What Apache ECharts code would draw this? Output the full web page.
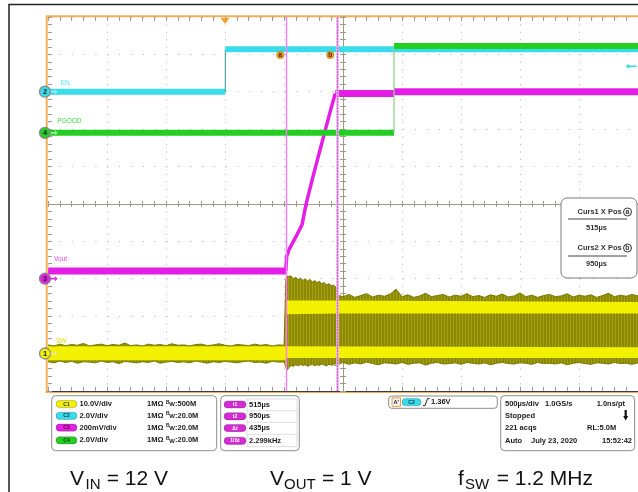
<!DOCTYPE html>
<html><head><meta charset="utf-8">
<script src="https://cdn.jsdelivr.net/npm/echarts@6/dist/echarts.min.js"></script>
<style>html,body{margin:0;padding:0;background:#fff}#c{width:638px;height:492px}</style>
</head><body><div id="c"></div>
<script>
// ---------- scope settings ----------
const TIME_MIN = -1500, TIME_MAX = 3500, TIME_DIV = 500;      // µs, 500µs/div
const DIV_MIN = -5, DIV_MAX = 5;                                // 10 vertical divisions
const CH_NAMES = ['SW', 'EN', 'Vout', 'PGOOD'];                 // C1..C4
const CH_NUM = ['1', '2', '3', '4'];
const CH_VDIV = [10, 2, 0.2, 2];                                // V/div
const CH_GND_DIV = [-4, 3, -2, 1.9];                            // ground marker position (div)
const CH_COLORS = ['#F1F100', '#38DCEA', '#E41EE4', '#22CE22'];
const CH_SCALE_TXT = ['10.0V/div', '2.0V/div', '200mV/div', '2.0V/div'];
const CH_IMP_TXT = ['1MΩ', '1MΩ', '1MΩ', '1MΩ'];
const CH_BW_TXT = ['500M', '20.0M', '20.0M', '20.0M'];
const CURSOR_T = [515, 950];                                    // µs
const TRIG_T = 0, TRIG_LEVEL = 1.36;                            // trigger on C2

// ---------- traces ----------
const EN_T = [-1500, 2.5, 2.5, 3500];
const EN_V = [0, 0, 2.27, 2.27];
const PG_T = [-1500, 1432, 1432, 3500];
const PG_V = [0, 0, 4.65, 4.65];
const VOUT_T = [-1500, 515, 522, 543, 602, 653, 684, 737, 788, 838, 888, 934, 1432, 1432, 3500];
const VOUT_V = [0.041, 0.041, 0.119, 0.157, 0.226, 0.290, 0.392, 0.526, 0.649, 0.767, 0.887, 0.99, 0.99, 1.0, 1.0];

// SW envelope (V), before soft-start, during ramp, steady state
const SW1_T = [-1500,-1450,-1400,-1350,-1300,-1250,-1200,-1150,-1100,-1050,-1000,-950,-900,-850,-800,-750,-700,-650,-600,-550,-500,-450,-400,-350,-300,-250,-200,-150,-100,-50,0,50,100,150,200,250,300,350,400,450,500,512];
const SW1_TOP = [2.3,2.0,2.5,2.1,2.4,2.2,2.7,2.0,2.3,2.5,2.1,2.4,2.2,2.8,2.1,2.3,2.0,2.5,2.2,2.4,2.1,2.6,2.2,2.3,2.0,2.4,2.5,2.1,2.3,2.6,2.2,2.0,2.4,2.3,2.1,2.5,2.2,2.4,2.0,2.3,2.2,2.1];
const SW1_BOT = [-2.2,-2.5,-2.0,-2.4,-2.1,-2.6,-2.2,-2.3,-2.5,-2.0,-2.4,-2.2,-2.7,-2.1,-2.3,-2.5,-2.2,-2.4,-2.0,-2.6,-2.3,-2.1,-2.4,-2.2,-2.5,-2.0,-2.3,-2.6,-2.2,-2.4,-2.1,-2.3,-2.5,-2.2,-2.0,-2.4,-2.3,-2.6,-2.1,-2.3,-2.2,-2.4];
const SW2_T = [515,525,540,560,580,600,620,640,660,680,700,720,740,760,780,800,820,840,860,880,900,920,940,948];
const SW2_TOP = [19.6,20.6,20.1,20.7,20.0,20.4,19.7,20.2,19.5,20.0,19.3,19.8,19.1,19.5,18.9,19.3,18.6,19.0,18.3,18.7,18.1,18.3,17.7,17.4];
const SW2_BOT = [-3.6,-4.5,-3.8,-3.2,-3.4,-3.0,-3.3,-2.9,-3.2,-3.0,-3.4,-3.1,-2.9,-3.3,-3.0,-3.2,-2.8,-3.1,-3.3,-2.9,-3.1,-3.0,-3.2,-3.0];
const SW3_T = [952,1000,1050,1100,1150,1200,1250,1300,1350,1400,1450,1500,1550,1600,1650,1700,1750,1800,1850,1900,1950,2000,2050,2100,2150,2200,2250,2300,2350,2400,2450,2500,2550,2600,2650,2700,2750,2800,2850,2900,2950,3000,3050,3100,3150,3200,3250,3300,3350,3400,3450,3500];
const SW3_TOP = [15.6,15.2,15.8,15.0,15.5,16.0,15.1,15.6,15.3,15.9,17.2,15.2,15.7,15.0,15.4,16.1,15.2,15.5,15.8,15.1,15.6,15.3,16.0,15.2,15.5,15.0,15.7,15.3,15.9,15.1,15.4,16.2,15.2,15.6,15.0,15.5,15.8,15.2,15.4,16.0,15.1,15.6,15.3,15.7,15.0,15.5,16.1,15.2,15.6,15.3,15.8,15.4];
const SW3_BOT = [-2.7,-2.4,-2.9,-2.5,-2.8,-2.3,-2.7,-3.0,-2.5,-2.6,-2.8,-2.4,-2.9,-2.6,-2.5,-3.1,-2.6,-2.4,-2.8,-2.7,-2.5,-2.9,-2.4,-2.6,-2.8,-2.5,-3.0,-2.6,-2.4,-2.7,-2.8,-2.5,-2.6,-2.9,-2.4,-2.7,-2.6,-2.8,-2.5,-3.0,-2.6,-2.4,-2.7,-2.9,-2.5,-2.6,-2.8,-2.4,-2.7,-2.6,-2.9,-2.5];
// bright (dense) levels of the switching node
const SWL_T = [-1500, 512, 515, 3500];
const SWL_TOP = [1.95, 1.95, 1.7, 1.7];
const SWL_BOT = [-1.8, -1.8, -1.2, -1.2];
const SWU_T = [515, 950, 950, 3500];
const SWU_TOP = [14.2, 14.2, 13.8, 13.8];
const SWU_BOT = [10.5, 10.5, 10.7, 10.7];

// info panel texts
const ACQ_TXT = [['500µs/div', '1.0GS/s', '1.0ns/pt'], ['Stopped'], ['221 acqs', 'RL:5.0M'], ['Auto', 'July 23, 2020', '15:52:42']];

// ---------- build ----------
const SW_T = SW1_T.concat(SW2_T, SW3_T);
const SW_TOP = SW1_TOP.concat(SW2_TOP, SW3_TOP);
const SW_BOT = SW1_BOT.concat(SW2_BOT, SW3_BOT);

const pat = document.createElement('canvas');
pat.width = 3; pat.height = 4;
const pc = pat.getContext('2d');
pc.fillStyle = '#8C8900'; pc.fillRect(0, 0, 3, 4);
pc.fillStyle = '#A4A116'; pc.fillRect(0, 0, 1, 4);

const series = [];
// stacked band: data given as [value, time] so that the value (y) dimension is the stacked one
function bandSeries(stack, T, top, bot, yIdx, fill, edge, z) {
  const common = {type: 'line', stack, stackStrategy: 'all', xAxisIndex: 0, yAxisIndex: yIdx, encode: {x: 1, y: 0},
    symbol: 'none', silent: true, animation: false, z};
  series.push(Object.assign({}, common, {data: T.map((t, i) => [bot[i], t]),
    lineStyle: edge ? {color: edge, width: 1} : {opacity: 0, width: 0}}));
  series.push(Object.assign({}, common, {data: T.map((t, i) => [+(top[i] - bot[i]).toFixed(3), t]),
    lineStyle: edge ? {color: edge, width: 1} : {opacity: 0, width: 0},
    areaStyle: {color: fill, opacity: 1}}));
}
function traceSeries(T, V, yIdx, color, edgeColor, wFlat, wRamp, z) {
  const segs = [];
  let cur = null;
  for (let i = 0; i < T.length - 1; i++) {
    const kind = T[i + 1] === T[i] ? 'edge' : (V[i + 1] === V[i] ? 'flat' : 'ramp');
    if (cur && cur.kind === kind) cur.data.push([T[i + 1], V[i + 1]]);
    else { cur = {kind, data: [[T[i], V[i]], [T[i + 1], V[i + 1]]]}; segs.push(cur); }
  }
  segs.forEach(s => series.push({type: 'line', xAxisIndex: 0, yAxisIndex: yIdx, data: s.data, symbol: 'none',
    silent: true, animation: false, z,
    lineStyle: {color: s.kind === 'edge' ? edgeColor : color, width: s.kind === 'flat' ? wFlat : (s.kind === 'ramp' ? wRamp : 1.3), cap: 'butt', join: 'round'}}));
}

bandSeries('swOuter', SW_T, SW_TOP, SW_BOT, 3, {image: pat, repeat: 'repeat'}, '#7A7700', 2);
bandSeries('swLow', SWL_T, SWL_TOP, SWL_BOT, 3, CH_COLORS[0], null, 2);
bandSeries('swUp', SWU_T, SWU_TOP, SWU_BOT, 3, CH_COLORS[0], null, 2);
traceSeries(VOUT_T, VOUT_V, 5, CH_COLORS[2], '#E060E0', 7, 3.5, 3);
traceSeries(EN_T, EN_V, 4, CH_COLORS[1], '#5BA7AE', 6, 3, 3);
traceSeries(PG_T, PG_V, 6, CH_COLORS[3], '#8CD08C', 6, 3, 4);

// channel ground markers + labels
const LABEL_OFF = [[7.9, -12.7], [12.6, -8], [5.9, -19], [9.2, -11.7]];
const LABEL_COL = ['#E2DC00', '#50E2F0', '#E040E0', '#40DA40'];
const ARROW_COL = ['#E8E8A0', '#A0E8F0', '#E020E0', '#A0E8A0'];
for (let ci = 0; ci < 4; ci++) {
  series.push({type: 'scatter', xAxisIndex: 0, yAxisIndex: 3 + ci, data: [], silent: true, animation: false, z: 15,
    markPoint: {animation: false, silent: true, data: [
      {coord: [TIME_MIN, 0], symbol: 'circle', symbolSize: 11, symbolOffset: [-3.1, 0],
        itemStyle: {color: CH_COLORS[ci], borderColor: '#8a8a8a', borderWidth: 1.3},
        label: {show: true, formatter: CH_NUM[ci], position: 'inside', color: '#222', fontSize: 7.5, fontWeight: 'bold', fontFamily: 'Liberation Sans'}},
      {coord: [TIME_MIN, 0], symbol: 'path://M0,2 L5,2 L5,0 L8,3 L5,6 L5,4 L0,4 Z', symbolSize: [7, 5], symbolOffset: [6, 0],
        itemStyle: {color: ARROW_COL[ci]}, label: {show: false}},
      {coord: [TIME_MIN, 0], symbol: 'circle', symbolSize: 1, itemStyle: {color: 'rgba(0,0,0,0)'},
        label: {show: true, formatter: CH_NAMES[ci], position: 'inside', align: 'left', verticalAlign: 'middle',
          offset: LABEL_OFF[ci], color: LABEL_COL[ci], fontSize: 6.5, fontFamily: 'Liberation Sans'}}
    ]}});
}
// trigger level arrow on C2
series.push({type: 'scatter', xAxisIndex: 0, yAxisIndex: 4, data: [], silent: true, animation: false, z: 15,
  markPoint: {animation: false, silent: true, data: [
    {coord: [TIME_MAX, TRIG_LEVEL], symbol: 'path://M0,3 L4,0 L4,2 L12,2 L12,4 L4,4 L4,6 Z', symbolSize: [11, 5], symbolOffset: [-7, 0],
      itemStyle: {color: CH_COLORS[1]}, label: {show: false}}]}});
// cursors + trigger position
series.push({type: 'scatter', xAxisIndex: 0, yAxisIndex: 0, data: [], silent: true, animation: false, z: 20,
  markLine: {silent: true, animation: false, symbol: ['none', 'none'], label: {show: false},
    data: [
      {xAxis: CURSOR_T[0], lineStyle: {color: '#FF7CFF', width: 1.4, type: 'solid'}},
      {xAxis: CURSOR_T[1], lineStyle: {color: '#F2AEF2', width: 2.6, type: 'solid'}},
      {xAxis: CURSOR_T[1], lineStyle: {color: '#B34CC2', width: 1, type: [1.5, 1.5]}}
    ]},
  markPoint: {animation: false, silent: true, data: [
    {coord: [TRIG_T, DIV_MAX], symbol: 'triangle', symbolRotate: 180, symbolSize: [9, 6], symbolOffset: [0, 4],
      itemStyle: {color: '#F0A030'}, label: {show: false}},
    {coord: [CURSOR_T[0], 4], symbol: 'circle', symbolSize: 7.5, symbolOffset: [-5.5, 0.7],
      itemStyle: {color: '#EFA032', borderColor: '#B87818', borderWidth: 0.6},
      label: {show: true, formatter: 'a', position: 'inside', color: '#3a2200', fontSize: 6.5, fontWeight: 'bold'}},
    {coord: [CURSOR_T[1], 4], symbol: 'circle', symbolSize: 7.5, symbolOffset: [-6.9, 0.7],
      itemStyle: {color: '#EFA032', borderColor: '#B87818', borderWidth: 0.6},
      label: {show: true, formatter: 'b', position: 'inside', color: '#3a2200', fontSize: 6.5, fontWeight: 'bold'}}
  ]}});

// ---------- axes ----------
const TICK_C = '#9a9a9a', CROSS_C = '#9d9b88';
const timeAxis = (pos, showLine, split) => ({type: 'value', min: TIME_MIN, max: TIME_MAX, interval: TIME_DIV, position: pos,
  axisLine: {show: showLine, onZero: false, lineStyle: {color: '#3c3c3c', width: 1}},
  axisTick: {show: true, inside: true, length: 4, lineStyle: {color: TICK_C}},
  minorTick: {show: true, splitNumber: 5, length: 4, lineStyle: {color: TICK_C}},
  axisLabel: {show: false},
  splitLine: {show: split, lineStyle: {color: '#b2b2b2', width: 1, type: [1, 6.48]}}});
const crossAxis = (pos, inside, zeroIdx) => ({type: 'value', min: DIV_MIN, max: DIV_MAX, interval: 1, position: pos,
  axisLine: {show: true, onZero: true, onZeroAxisIndex: zeroIdx, lineStyle: {color: CROSS_C, width: 1}},
  axisTick: {show: true, inside, length: 3, lineStyle: {color: CROSS_C}},
  minorTick: {show: true, splitNumber: 5, length: 3, lineStyle: {color: CROSS_C}},
  axisLabel: {show: false}, splitLine: {show: false}});
const chAxes = CH_VDIV.map((vd, i) => ({type: 'value', show: false,
  min: +((DIV_MIN - CH_GND_DIV[i]) * vd).toFixed(4), max: +((DIV_MAX - CH_GND_DIV[i]) * vd).toFixed(4),
  axisLine: {onZero: false}, splitLine: {show: false}}));

// ---------- panels ----------
const F = 'bold 7.5px "Liberation Sans", Arial, sans-serif';
const G = [];
function txt(x, y, text, o = {}) {
  G.push({type: 'text', x, y, z: 30, silent: true, style: {text, font: o.font || F, fill: o.fill || '#1a1a1a', textFill: o.fill || '#1a1a1a',
    textAlign: o.align || 'left', align: o.align || 'left', textVerticalAlign: 'middle', verticalAlign: 'middle'}});
}
function rect(x, y, w, h, r, fill, stroke, lw = 1, z = 25) {
  G.push({type: 'rect', z, silent: true, shape: {x, y, width: w, height: h, r}, style: {fill, stroke, lineWidth: lw}});
}
function pill(cx, cy, w, label, color, tcol) {
  rect(cx - w / 2, cy - 3.6, w, 7.2, 3.6, color, 'rgba(0,0,0,0.35)', 0.6, 28);
  txt(cx, cy + 0.2, label, {font: 'bold 5px "Liberation Sans", Arial', fill: tcol, align: 'center'});
}
// outer frame + orange graticule frame
G.push({type: 'rect', z: -1, silent: true, shape: {x: 9, y: 4.5, width: 700, height: 600}, style: {fill: null, stroke: '#222', lineWidth: 1.5}});
G.push({type: 'rect', z: -1, silent: true, shape: {x: 46.7, y: 16.3, width: 620, height: 375.6}, style: {fill: null, stroke: '#F3AE55', lineWidth: 2}});

// channel box
const ROWS = [404, 415.8, 427.6, 440.3];
rect(51.7, 395.7, 165, 55, 4, '#fff', '#8c8c8c');
const PILL_TXT = ['#333', '#134', '#402', '#131'];
for (let i = 0; i < 4; i++) {
  pill(66.5, ROWS[i], 21, 'C' + CH_NUM[i], CH_COLORS[i], PILL_TXT[i]);
  txt(79.5, ROWS[i], CH_SCALE_TXT[i]);
  txt(147, ROWS[i], CH_IMP_TXT[i]);
  txt(166, ROWS[i] - 1.8, 'B', {font: 'bold 5px "Liberation Sans", Arial'});
  txt(169.3, ROWS[i] + 0.6, 'W', {font: 'bold 6px "Liberation Sans", Arial'});
  txt(175, ROWS[i], ':' + CH_BW_TXT[i]);
}
// cursor value box
rect(220.7, 395.7, 78.6, 55, 4, '#fff', '#8c8c8c');
rect(247, 399, 50, 47.7, 0, '#fff', '#d4d4d4', 0.8, 26);
[410.7, 422.3, 434.3].forEach(y => G.push({type: 'line', z: 27, silent: true, shape: {x1: 247, y1: y, x2: 297, y2: y}, style: {stroke: '#d4d4d4', lineWidth: 0.8}}));
const dt = CURSOR_T[1] - CURSOR_T[0];
const CUR_LBL = ['t1', 't2', 'Δt', '1/Δt'];
const CUR_VAL = [CURSOR_T[0] + 'µs', CURSOR_T[1] + 'µs', dt + 'µs', (1000 / dt).toFixed(3) + 'kHz'];
for (let i = 0; i < 4; i++) {
  pill(235, ROWS[i] + 0.5, 22, CUR_LBL[i], '#D52AD5', '#fff');
  txt(249, ROWS[i] + 0.5, CUR_VAL[i]);
}
// trigger box
rect(388.7, 396, 108.6, 12.3, 3, '#fff', '#8c8c8c');
rect(392, 397.8, 8.5, 8.6, 0, '#f2f2f2', '#E8A040', 1, 27);
txt(396.2, 402.2, "A'", {font: 'bold 5.5px "Liberation Sans", Arial', align: 'center'});
pill(411.5, 402.2, 19, 'C2', CH_COLORS[1], '#134');
G.push({type: 'polyline', z: 28, silent: true, shape: {points: [[423, 405.6], [425, 405.6], [427.5, 398.6], [429.5, 398.6]]}, style: {stroke: '#222', lineWidth: 1, fill: null}});
txt(431, 402.2, TRIG_LEVEL.toFixed(2) + 'V');
// acquisition box
rect(500.7, 395.7, 134, 55, 4, '#fff', '#8c8c8c');
const AROWS = [404, 415.8, 428.3, 440.7];
txt(505, AROWS[0], ACQ_TXT[0][0]); txt(545, AROWS[0], ACQ_TXT[0][1]); txt(625, AROWS[0], ACQ_TXT[0][2], {align: 'right'});
txt(505, AROWS[1], ACQ_TXT[1][0]);
G.push({type: 'polygon', z: 28, silent: true, shape: {points: [[624.6, 410], [626.8, 410], [626.8, 416], [628.2, 416], [625.7, 420.5], [623.2, 416], [624.6, 416]]}, style: {fill: '#111'}});
txt(505, AROWS[2], ACQ_TXT[2][0]); txt(587, AROWS[2], ACQ_TXT[2][1]);
txt(505, AROWS[3], ACQ_TXT[3][0]); txt(531, AROWS[3], ACQ_TXT[3][1]); txt(632, AROWS[3], ACQ_TXT[3][2], {align: 'right'});
// cursor readout box
rect(561, 198, 76, 80, 6, '#fff', '#7a7a7a');
const CF = 'bold 7.5px "Liberation Sans", Arial, sans-serif';
[[212, 'Curs1 X Pos', 'a', 219, 228, CURSOR_T[0]], [248, 'Curs2 X Pos', 'b', 256, 264, CURSOR_T[1]]].forEach(r => {
  txt(621.7, r[0], r[1], {align: 'right', font: CF, fill: '#333'});
  G.push({type: 'circle', z: 28, silent: true, shape: {cx: 627.5, cy: r[0], r: 4}, style: {fill: '#fff', stroke: '#333', lineWidth: 1}});
  txt(627.5, r[0] + 0.3, r[2], {align: 'center', font: 'bold 7px "Liberation Sans", Arial', fill: '#333'});
  G.push({type: 'line', z: 28, silent: true, shape: {x1: 568, y1: r[3], x2: 627, y2: r[3]}, style: {stroke: '#444', lineWidth: 1}});
  txt(596.5, r[4], r[5] + 'µs', {align: 'center', font: CF, fill: '#333'});
});
// bottom captions
const TF = '21px "Liberation Sans", Arial, sans-serif', SF = '15px "Liberation Sans", Arial, sans-serif';
txt(70, 479.5, 'V', {font: TF, fill: '#111'}); txt(85.5, 484.8, 'IN', {font: SF, fill: '#111'}); txt(168, 479.5, '= 12 V', {font: TF, fill: '#111', align: 'right'});
txt(270, 479.5, 'V', {font: TF, fill: '#111'}); txt(284, 484.8, 'OUT', {font: SF, fill: '#111'}); txt(371.5, 479.5, '= 1 V', {font: TF, fill: '#111', align: 'right'});
txt(458, 479.5, 'f', {font: TF, fill: '#111'}); txt(465, 484.8, 'SW', {font: SF, fill: '#111'}); txt(593, 479.5, '= 1.2 MHz', {font: TF, fill: '#111', align: 'right'});

const option = {
  animation: false,
  backgroundColor: '#fff',
  grid: {left: 48.1, top: 16.9, width: 592, height: 374, show: false},
  xAxis: [timeAxis('bottom', true, true), timeAxis('top', false, false), crossAxis('bottom', true, 0), crossAxis('bottom', false, 0)],
  yAxis: [
    {type: 'value', min: DIV_MIN, max: DIV_MAX, interval: 1, position: 'left',
      axisLine: {show: false, onZero: false},
      axisTick: {show: true, inside: true, length: 4, lineStyle: {color: TICK_C}},
      minorTick: {show: true, splitNumber: 5, length: 4, lineStyle: {color: TICK_C}},
      axisLabel: {show: false}, splitLine: {show: true, lineStyle: {color: '#b2b2b2', width: 1, type: [1, 10.84]}}},
    crossAxis('left', true, 2), crossAxis('left', false, 2)
  ].concat(chAxes),
  series,
  graphic: {elements: G}
};
const chart = echarts.init(document.getElementById('c'), null, {renderer: 'canvas'});
chart.setOption(option);
</script></body></html>
